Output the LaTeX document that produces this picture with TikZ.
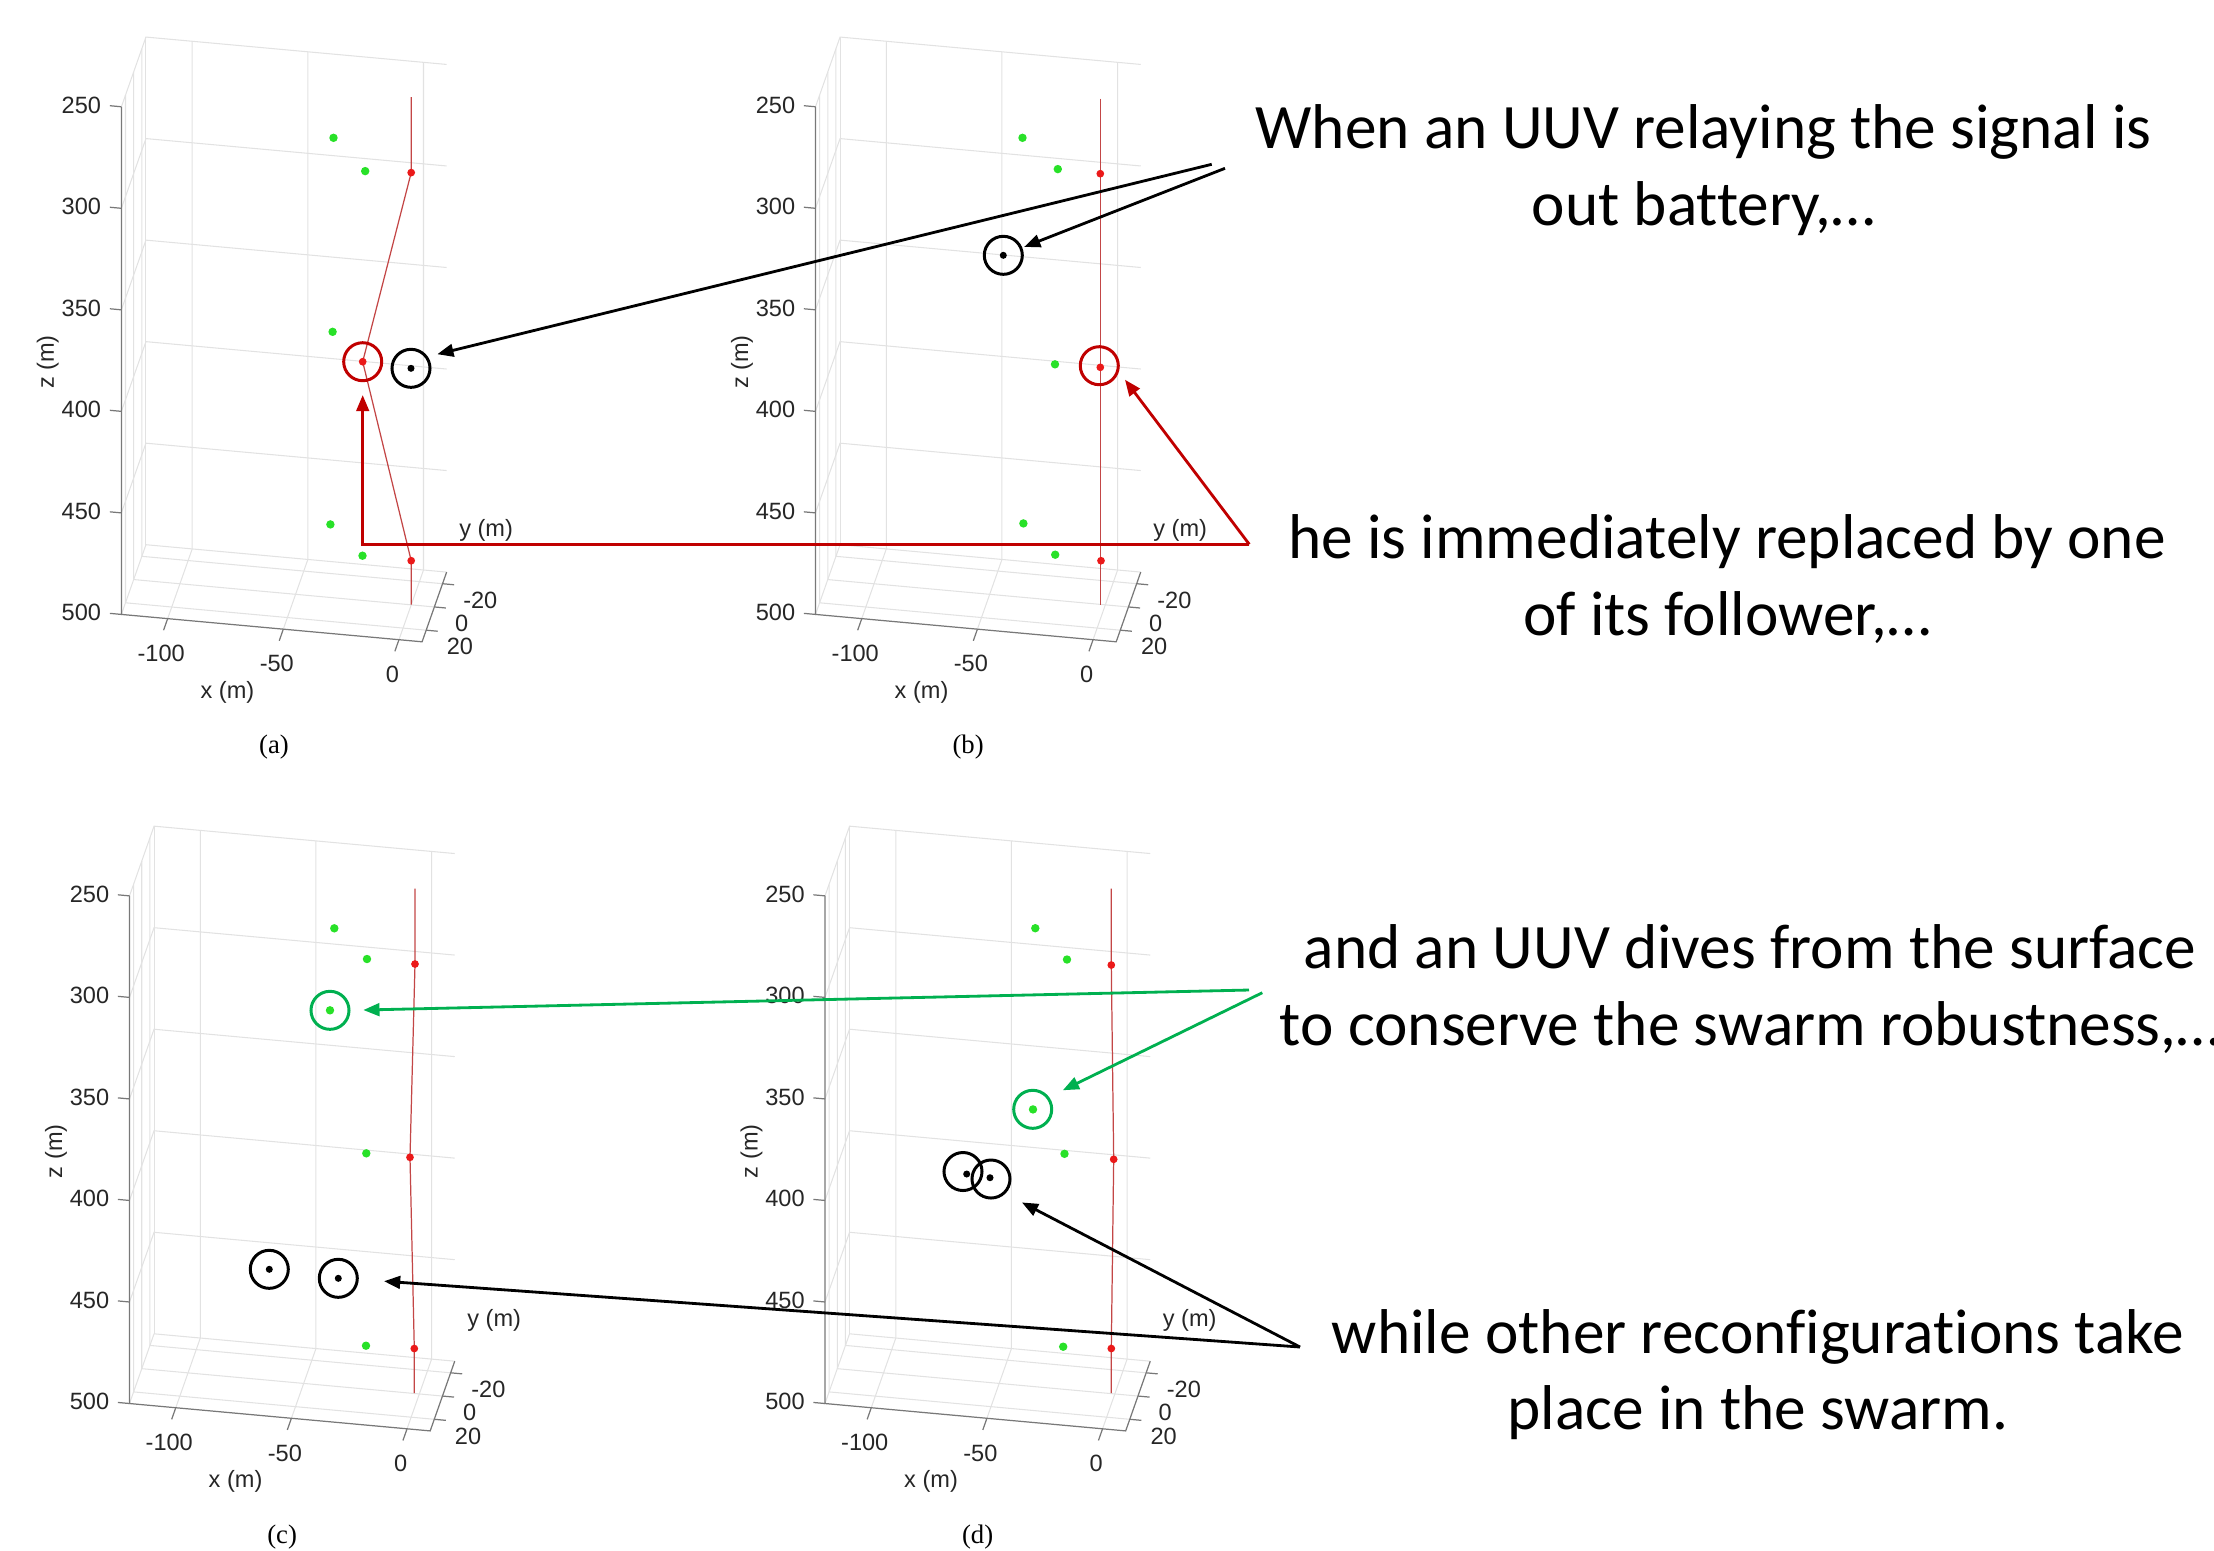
\documentclass[tikz,border=0pt]{standalone}
\usepackage{fontspec}
\setmainfont{Liberation Serif}
\newfontfamily\calloutfont[Ligatures={NoCommon}]{Carlito}
\newfontfamily\plotfont{Liberation Sans}
\usetikzlibrary{arrows.meta}
\definecolor{markred}{RGB}{192,0,0}
\definecolor{markgreen}{RGB}{0,176,80}
\definecolor{uuvred}{RGB}{235,25,25}
\definecolor{uuvgreen}{RGB}{40,225,40}
\definecolor{trackred}{RGB}{195,70,70}
\definecolor{gridgray}{RGB}{226,226,226}
\definecolor{axisgray}{RGB}{120,120,120}
\definecolor{ticktext}{RGB}{38,38,38}

\tikzset{
  gridline/.style={gridgray,line width=0.3pt},
  axisline/.style={axisgray,line width=0.35pt},
  trackline/.style={trackred,line width=0.35pt},
  ticklabel/.style={ticktext,font=\plotfont\fontsize{6.7}{8}\selectfont,inner sep=0pt},
  marker/.style={circle,draw=#1,line width=0.85pt,minimum size=0.38cm,inner sep=0pt},
  pointer/.style={line width=0.8pt,-{Triangle[length=4.6pt,width=3.6pt]}},
  callout/.style={font=\calloutfont\fontsize{18}{21.8}\selectfont,align=center,anchor=base,inner sep=0pt},
  subcap/.style={font=\fontsize{7.6}{9}\selectfont,inner sep=0pt}
}

\newcommand{\swarmplot}[2]{%
  \begin{scope}[shift={#1},x={(0.02311cm,-0.002105cm)},y={(-0.00409cm,-0.01161cm)},
      z={(0cm,-0.0203cm)},shift={(120,-30,-500)}]
    \foreach \zz in {250,300,...,500}{
      \draw[gridline] (-120,30,\zz) -- (-120,-30,\zz) -- (10,-30,\zz);
    }
    \foreach \xx in {-100,-50,0}{
      \draw[gridline] (\xx,30,500) -- (\xx,-30,500) -- (\xx,-30,250);
    }
    \foreach \yy in {-20,0,20}{
      \draw[gridline] (10,\yy,500) -- (-120,\yy,500) -- (-120,\yy,250);
    }
    \draw[gridline] (-120,-30,500) -- (-120,-30,250);
    \draw[axisline] (-120,30,250) -- (-120,30,500) -- (10,30,500) -- (10,-30,500);
    \foreach \zz in {250,300,...,500}{
      \draw[axisline] (-120,30,\zz) -- (-125,30,\zz);
      \node[ticklabel,anchor=east] (#2-z\zz) at (-128.5,30,\zz) {\zz};
    }
    \foreach \xx in {-100,-50,0}{
      \draw[axisline] (\xx,30,500) -- (\xx,40,500);
      \node[ticklabel,xshift=-0.065cm,yshift=-0.347cm] (#2-x\xx) at (\xx,30,500) {\xx};
    }
    \foreach \yy in {-20,0,20}{
      \draw[axisline] (10,\yy,500) -- (15,\yy,500);
      \node[ticklabel,anchor=west,xshift=0.2cm,yshift=-0.166cm] (#2-y\yy) at (10,\yy,500) {\yy};
    }
    \node[ticklabel,xshift=1.06cm,yshift=-0.775cm] (#2-xlab) at (-120,30,500) {x (m)};
    \node[ticklabel,xshift=3.645cm,yshift=0.835cm] (#2-ylab) at (-120,30,500) {y (m)};
    \node[ticklabel,xshift=-0.735cm,yshift=2.522cm,rotate=90] (#2-zlab) at (-120,30,500) {z (m)};
    \node[subcap,xshift=1.525cm,yshift=-1.33cm] (#2-cap) at (-120,30,500) {(#2)};
  \end{scope}}

\begin{document}
\begin{tikzpicture}[x=0.01cm,y=-0.01cm]
  \useasboundingbox (0,0) rectangle (2214,1550);
  \swarmplot{(121.4,614.4)}{a}
  \swarmplot{(815.5,614.4)}{b}
  \swarmplot{(129.5,1403.5)}{c}
  \swarmplot{(825,1403.5)}{d}

  \draw[trackline] (411.2,97) -- (411.2,172.6) -- (362.7,361.7) -- (411.2,560.7) -- (411.2,604.5);
  \draw[trackline] (1100.3,98.5) -- (1100.3,604.5);
  \draw[trackline] (415,888.5) -- (415,964) -- (410,1157.3) -- (414.3,1348.5) -- (414.3,1393);
  \draw[trackline] (1111.2,888.5) -- (1111.3,965) -- (1113.7,1159.3) -- (1111.3,1348.5) -- (1111.2,1393);

  \foreach \p in {(333.5,137.8),(365.2,171.1),(332.6,331.8),(330.4,524.4),(362.5,555.7),
      (1022.5,137.8),(1057.8,169.1),(1055,364.3),(1023.4,523.4),(1055.2,554.7),
      (334.3,928.3),(367,959),(330,1010.3),(366.3,1153.3),(366,1345.7),
      (1035.3,928.2),(1067,959.5),(1033,1109.4),(1064.5,1153.8),(1063.2,1346.7)}{
    \fill[uuvgreen] \p circle (1.2pt);
  }
  \foreach \p in {(411.2,172.6),(362.7,361.7),(411.2,560.7),
      (1100.3,173.7),(1100.3,367.3),(1101,560.7),
      (415,964),(410,1157.3),(414.3,1348.5),
      (1111.3,965),(1113.7,1159.3),(1111.3,1348.5)}{
    \fill[uuvred] \p circle (1.1pt);
  }
  \foreach \p in {(411,368.3),(1003.3,255.3),(269.3,1269.3),(338.3,1278.3),(966.7,1174),(990,1177.7)}{
    \fill[black] \p circle (1pt);
  }

  \node[marker=markred] (a-relay) at (362.7,361.7) {};
  \node[marker=black] (a-bat) at (411,368.3) {};
  \node[marker=black] (b-bat) at (1003.3,255.3) {};
  \node[marker=markred] (b-relay) at (1099.3,365.7) {};
  \node[marker=markgreen] (c-dive) at (330,1010.3) {};
  \node[marker=black] (c-swap1) at (269.3,1269.3) {};
  \node[marker=black] (c-swap2) at (338.3,1278.3) {};
  \node[marker=markgreen] (d-dive) at (1032.7,1109.3) {};
  \node[marker=black] (d-swap1) at (963,1171.5) {};
  \node[marker=black] (d-swap2) at (991,1179) {};

  \node[callout] (battery) at (1703.5,225.3) {When an UUV relaying the signal is\\out battery,…};
  \node[callout] (replace) at (1727,635.2) {he is immediately replaced by one\\of its follower,…};
  \node[callout] (dive) at (1750,1045.3) {and an UUV dives from the surface\\to conserve the swarm robustness,…};
  \node[callout] (reconf) at (1758,1429.9) {while other reconfigurations take\\place in the swarm.};

  \coordinate (battery-from1) at (1211.7,164.3);
  \coordinate (battery-from2) at (1225,168.3);
  \coordinate (replace-from) at (1249.3,544.3);
  \coordinate (dive-from1) at (1249,990);
  \coordinate (dive-from2) at (1262.3,992.7);
  \coordinate (reconf-from) at (1300,1347);

  \draw[pointer,shorten >=0.098cm] (battery-from1) -- (a-bat.35.5);
  \draw[pointer,shorten >=0.02cm] (battery-from2) -- (b-bat.22.6);
  \draw[pointer,markred,shorten >=0.128cm] (replace-from) -| (a-relay);
  \draw[pointer,markred,shorten >=0.10cm] (replace-from) -- (b-relay.-17.8);
  \draw[pointer,markgreen,shorten >=0.128cm] (dive-from1) -- (c-dive.0.5);
  \draw[pointer,markgreen,shorten >=0.153cm] (dive-from2) -- (d-dive.37.9);
  \draw[pointer,shorten >=0.253cm] (reconf-from) -- (c-swap2.-3);
  \draw[pointer,shorten >=0.188cm] (reconf-from) -- (d-swap2.-46);
\end{tikzpicture}
\end{document}
